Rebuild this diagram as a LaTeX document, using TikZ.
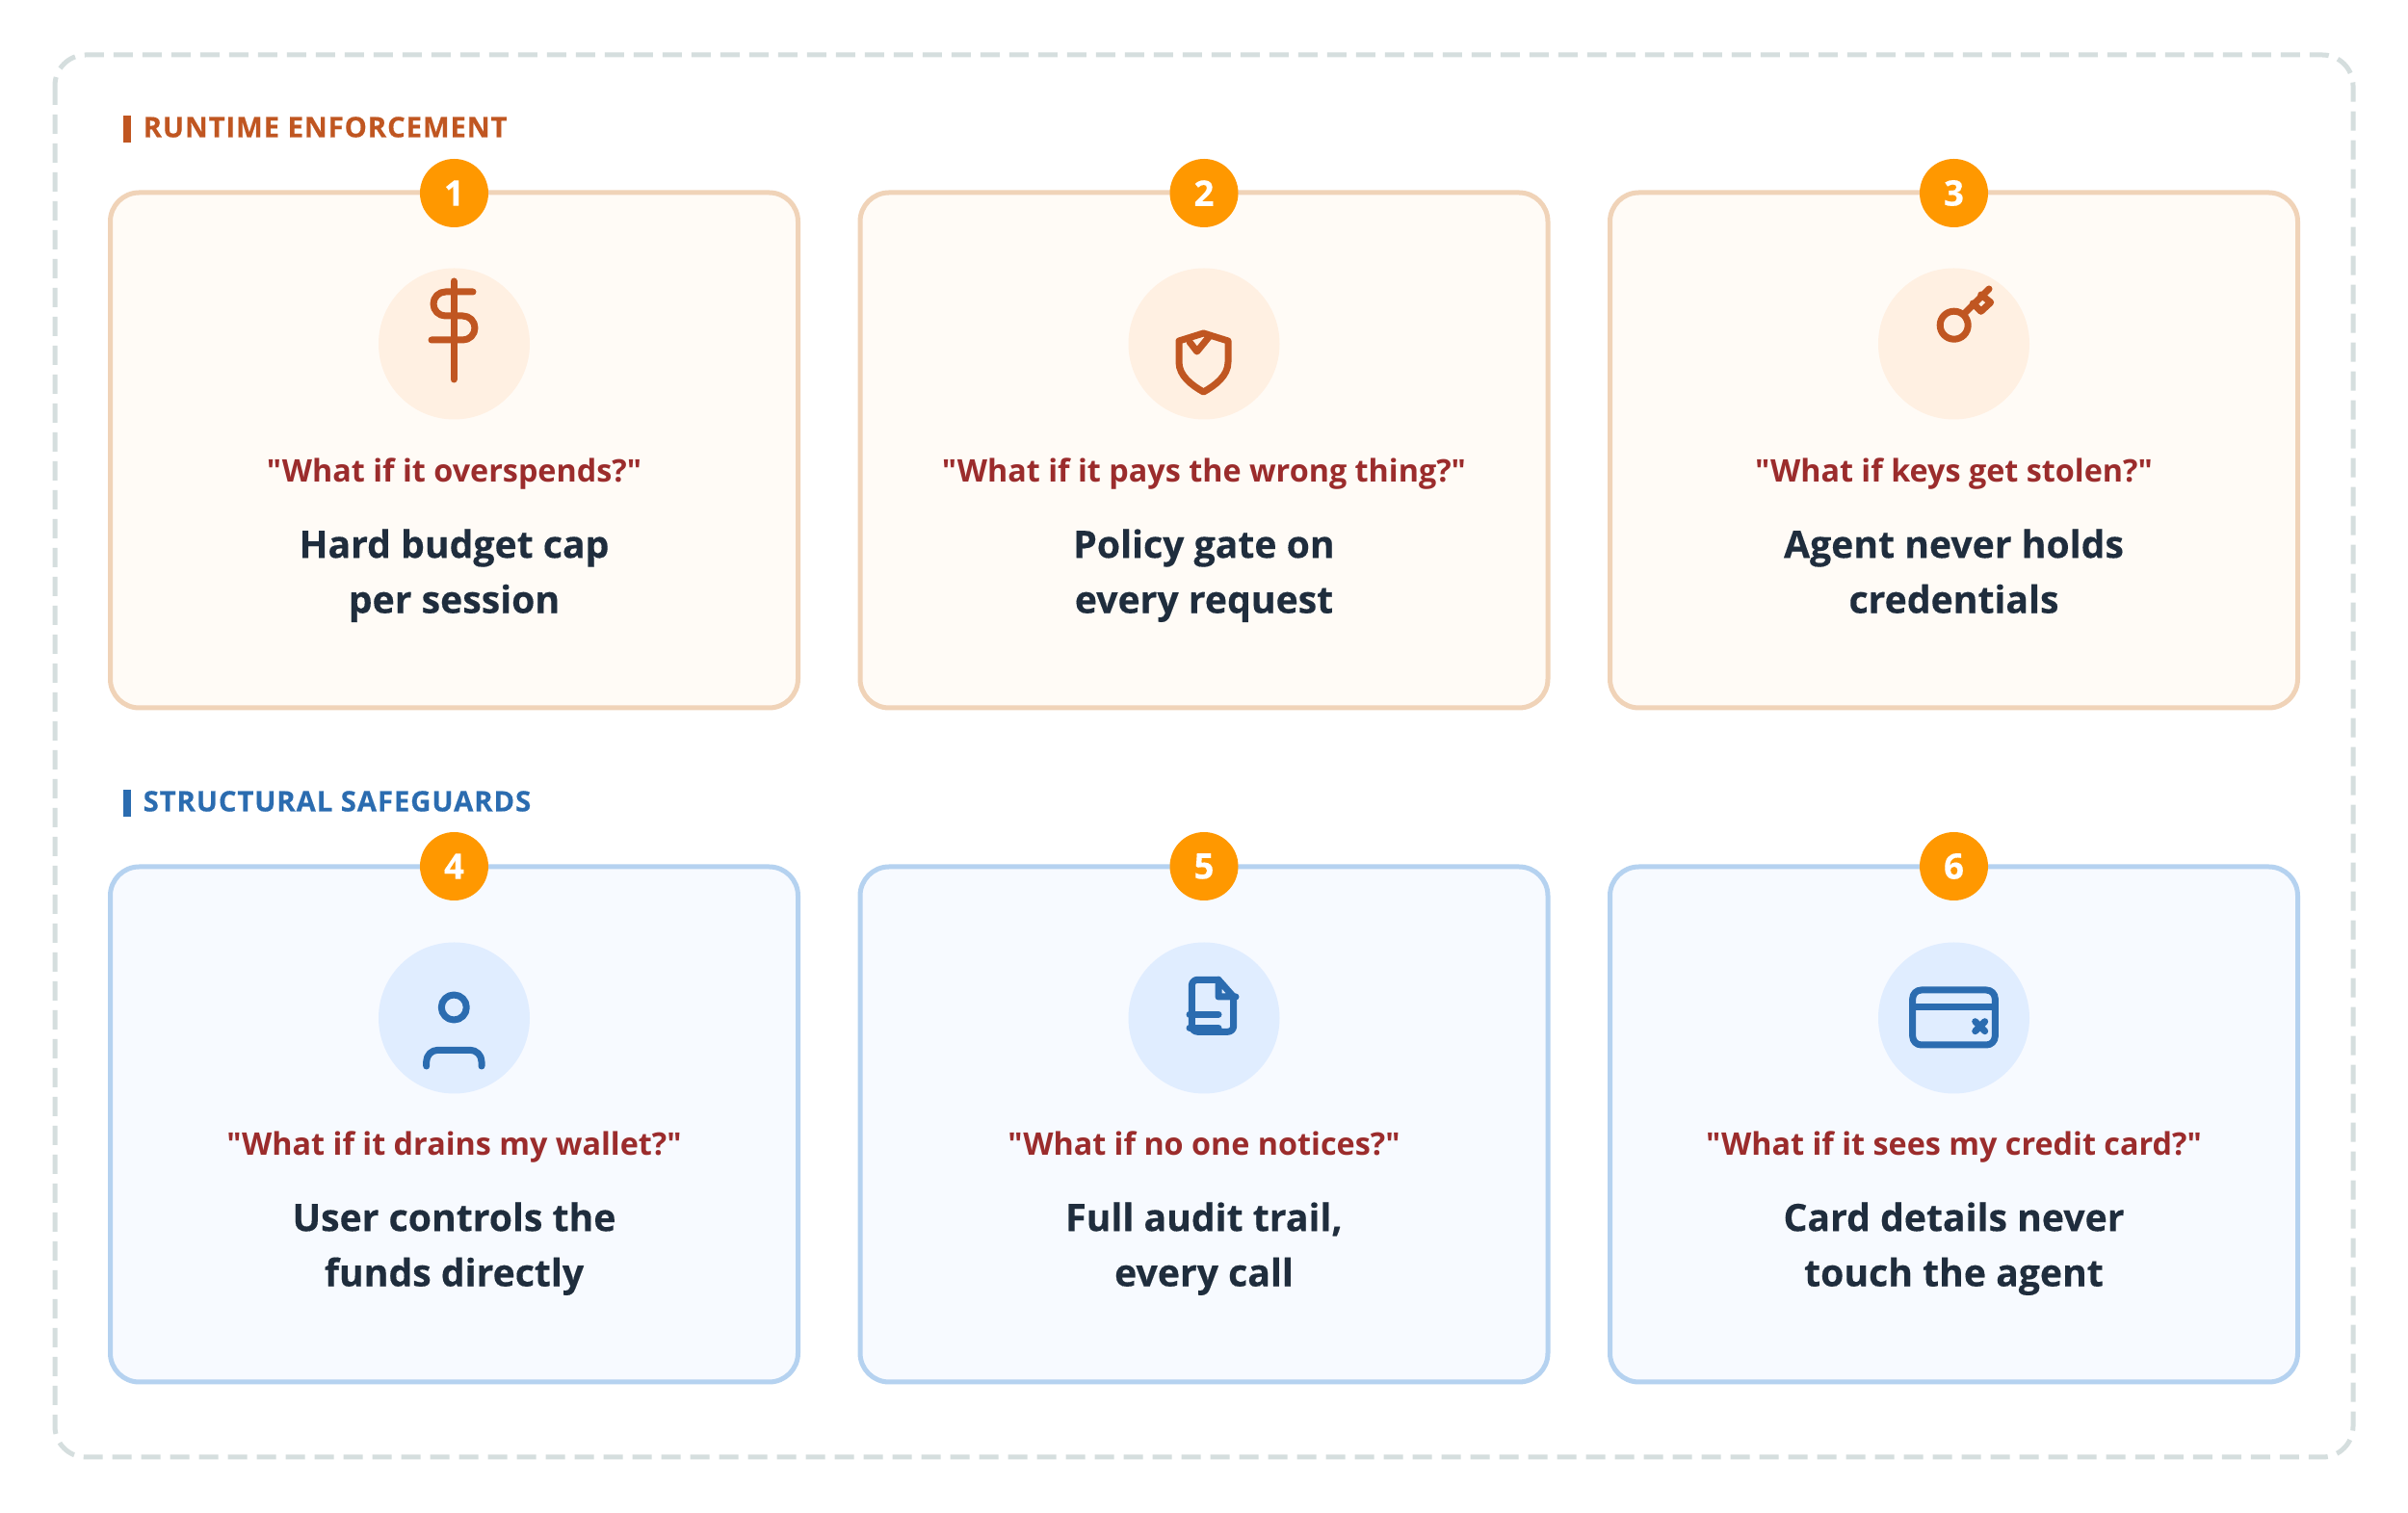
\documentclass[tikz,border=0pt]{standalone}
\usepackage{fontspec}
\setmainfont[Ligatures=TeXOff]{Open Sans}
\newlength{\du}
\setlength{\du}{0.3pt}
\definecolor{warmline}{HTML}{C05621}
\definecolor{warmedge}{HTML}{F0D3B8}
\definecolor{warmfill}{HTML}{FFFBF6}
\definecolor{warmdisc}{HTML}{FFF0E2}
\definecolor{coolline}{HTML}{2B6CB0}
\definecolor{cooledge}{HTML}{B5D2F0}
\definecolor{coolfill}{HTML}{F7FAFF}
\definecolor{cooldisc}{HTML}{E0EDFF}
\definecolor{badgecolor}{HTML}{FF9800}
\definecolor{askcolor}{HTML}{9B2C2C}
\definecolor{claimcolor}{HTML}{1F2D3D}
\definecolor{framecolor}{HTML}{D5DEDE}
\tikzset{
  framebox/.style={draw=framecolor,line width=5\du,rounded corners=32\du,dash pattern=on 20\du off 10\du},
  card/.style={rectangle,rounded corners=30\du,line width=5\du,outer sep=0pt,inner sep=0pt,minimum width=714\du,minimum height=535\du},
  warmcard/.style={card,draw=warmedge,fill=warmfill},
  coolcard/.style={card,draw=cooledge,fill=coolfill},
  badge/.style={circle,fill=badgecolor,text=white,inner sep=0pt,minimum size=71\du,font=\fontsize{11}{11}\selectfont\bfseries\addfontfeatures{FakeBold=0.3}},
  disc/.style={circle,inner sep=0pt,minimum size=157\du},
  warmdisc/.style={disc,fill=warmdisc},
  cooldisc/.style={disc,fill=cooldisc},
  ask/.style={text=askcolor,inner sep=0pt,text depth=0pt,font=\fontsize{9.7}{9.7}\selectfont\bfseries},
  claim/.style={text=claimcolor,inner sep=0pt,text depth=0pt,align=center,font=\fontsize{11.75}{17.2}\selectfont\bfseries\addfontfeatures{FakeBold=0.3}},
  rowtitle/.style={anchor=west,inner sep=0pt,font=\fontsize{8.8}{8.8}\selectfont\bfseries\addfontfeatures{LetterSpace=3,FakeBold=0.3}},
  warmicon/.style={draw=warmline,line width=7\du,line cap=round,line join=round},
  coolicon/.style={draw=coolline,line width=7\du,line cap=round,line join=round}
}
\begin{document}
\begin{tikzpicture}
\pgftransformxscale{1.000000}
\pgftransformyscale{-1.000000}
\useasboundingbox (0\du,0\du) rectangle (2500\du,1571\du);
\fill[white] (0\du,0\du) rectangle (2500\du,1571\du);
\draw[framebox] (57\du,57\du) rectangle (2443\du,1513\du);
% first row
\fill[warmline] (128\du,120\du) rectangle (136\du,148\du);
\node[rowtitle,text=warmline] (runtime) at (148\du,132\du) {RUNTIME ENFORCEMENT};
\node[warmcard] (card1) at (471.500000\du,467.500000\du) {};
\node[warmcard] (card2) at (1250\du,467.500000\du) {};
\node[warmcard] (card3) at (2028.500000\du,467.500000\du) {};
\node[badge] (badge1) at (471.500000\du,200.500000\du) {1};
\node[badge] (badge2) at (1250\du,200.500000\du) {2};
\node[badge] (badge3) at (2028.500000\du,200.500000\du) {3};
\node[warmdisc] (disc1) at (471.500000\du,357\du) {};
\node[warmdisc] (disc2) at (1250\du,357\du) {};
\node[warmdisc] (disc3) at (2028.500000\du,357\du) {};
% dollar
\draw[warmicon] (471\du,292\du)--(471\du,394\du);
\draw[warmicon] (491\du,303\du)--(462.500000\du,303\du) arc[start angle=270,end angle=90,radius=12.500000\du]--(480.500000\du,328\du) arc[start angle=-90,end angle=90,radius=12.500000\du]--(448\du,353\du);
% shield
\draw[warmicon] (1249.500000\du,346\du)--(1275\du,354\du)--(1275\du,376\du) .. controls (1275\du,390\du) and (1262\du,400\du) .. (1249.500000\du,407\du) .. controls (1237\du,400\du) and (1224\du,390\du) .. (1224\du,376\du)--(1224\du,354\du)--cycle;
\draw[warmicon] (1235\du,355\du)--(1242.700000\du,365\du)--(1255\du,350\du);
% key
\draw[warmicon] (2028.700000\du,337.700000\du) circle (14.500000\du);
\draw[warmicon] (2040\du,325\du)--(2065\du,300\du);
\draw[warmicon] (2056.700000\du,306\du)--(2066.700000\du,314\du)--(2056.700000\du,323.300000\du)--(2048.300000\du,315\du);
\node[ask] (ask1) at (471.500000\du,488\du) {"What if it overspends?"};
\node[ask] (ask2) at (1250\du,488\du) {"What if it pays the wrong thing?"};
\node[ask] (ask3) at (2028.500000\du,488\du) {"What if keys get stolen?"};
\node[claim] (claim1) at (471.500000\du,593\du) {Hard budget cap\\per session};
\node[claim] (claim2) at (1250\du,593\du) {Policy gate on\\every request};
\node[claim] (claim3) at (2028.500000\du,593\du) {Agent never holds\\credentials};
% second row
\fill[coolline] (128\du,820\du) rectangle (136\du,848\du);
\node[rowtitle,text=coolline] (structural) at (148\du,832\du) {STRUCTURAL SAFEGUARDS};
\node[coolcard] (card4) at (471.500000\du,1167.500000\du) {};
\node[coolcard] (card5) at (1250\du,1167.500000\du) {};
\node[coolcard] (card6) at (2028.500000\du,1167.500000\du) {};
\node[badge] (badge4) at (471.500000\du,899.500000\du) {4};
\node[badge] (badge5) at (1250\du,899.500000\du) {5};
\node[badge] (badge6) at (2028.500000\du,899.500000\du) {6};
\node[cooldisc] (disc4) at (471.500000\du,1057\du) {};
\node[cooldisc] (disc5) at (1250\du,1057\du) {};
\node[cooldisc] (disc6) at (2028.500000\du,1057\du) {};
% person
\draw[coolicon] (471.300000\du,1046\du) circle (13\du);
\draw[coolicon,rounded corners=12\du] (442.700000\du,1107\du)--(442.700000\du,1090.300000\du)--(500\du,1090.300000\du)--(500\du,1107\du);
% document
\draw[coolicon,rounded corners=6\du] (1265\du,1017.300000\du)--(1237.300000\du,1017.300000\du)--(1237.300000\du,1071.300000\du)--(1280.700000\du,1071.300000\du)--(1280.700000\du,1035\du);
\draw[coolicon] (1265\du,1017.300000\du)--(1280.700000\du,1035\du)--(1283\du,1035\du)--(1265\du,1035\du)--cycle;
\draw[coolicon] (1235\du,1053.300000\du)--(1265\du,1053.300000\du);
\draw[coolicon] (1235\du,1067.300000\du)--(1265\du,1067.300000\du);
% card
\draw[coolicon,rounded corners=9\du] (1985.700000\du,1028\du) rectangle (2071.300000\du,1085\du);
\draw[coolicon] (1985.700000\du,1046\du)--(2071.300000\du,1046\du);
\draw[coolicon] (2050.700000\du,1060.700000\du)--(2060.700000\du,1070.700000\du);
\draw[coolicon] (2060.700000\du,1060.700000\du)--(2050.700000\du,1070.700000\du);
\node[ask] (ask4) at (471.500000\du,1187\du) {"What if it drains my wallet?"};
\node[ask] (ask5) at (1250\du,1187\du) {"What if no one notices?"};
\node[ask] (ask6) at (2028.500000\du,1187\du) {"What if it sees my credit card?"};
\node[claim] (claim4) at (471.500000\du,1292\du) {User controls the\\funds directly};
\node[claim] (claim5) at (1250\du,1292\du) {Full audit trail,\\every call};
\node[claim] (claim6) at (2028.500000\du,1292\du) {Card details never\\touch the agent};
\end{tikzpicture}
\end{document}
